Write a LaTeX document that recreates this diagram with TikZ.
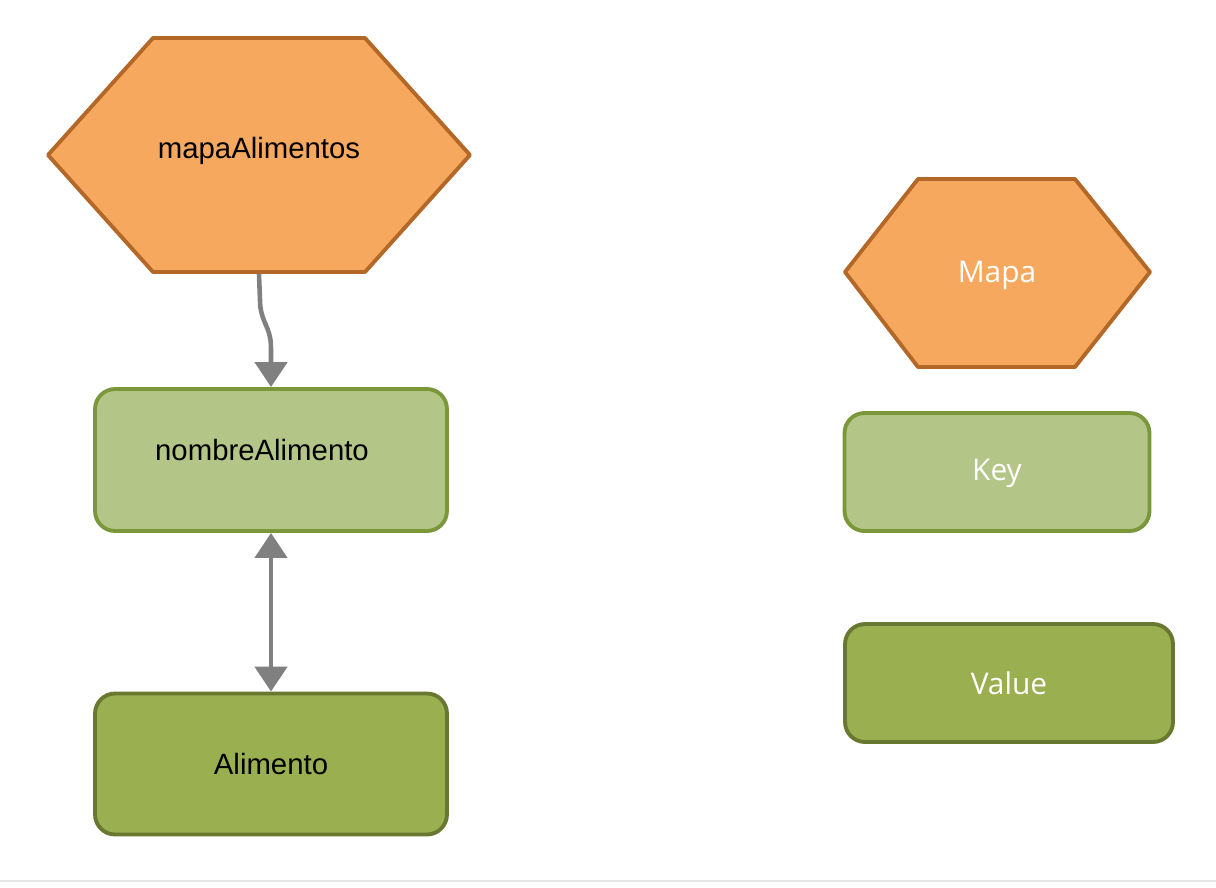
\documentclass[tikz,border=0pt]{standalone}
\usepackage{fontspec}
\setmainfont{Liberation Sans}
\newfontfamily\leyendafont{Open Sans}
\usetikzlibrary{arrows.meta}
\definecolor{naranja}{RGB}{246,169,94}
\definecolor{naranjaborde}{RGB}{180,104,40}
\definecolor{verdeclaro}{RGB}{179,198,135}
\definecolor{verdeclaroborde}{RGB}{122,152,58}
\definecolor{verdeoscuro}{RGB}{154,175,80}
\definecolor{verdeoscuroborde}{RGB}{104,120,48}
\definecolor{flecha}{RGB}{128,128,128}
\begin{document}
\begin{tikzpicture}[
    x=0.02cm, y=-0.02cm,
    line width=2.2pt,
    font=\fontsize{16.7}{20}\selectfont,
    hexa/.style={draw=naranjaborde, fill=naranja, line join=round},
    hexatexto/.style={rectangle, inner sep=0pt},
    llave/.style={rectangle, rounded corners=0.4cm, draw=verdeclaroborde, fill=verdeclaro, inner sep=0pt},
    valor/.style={rectangle, rounded corners=0.4cm, draw=verdeoscuroborde, fill=verdeoscuro, inner sep=0pt},
    leyenda/.style={text=white, font=\leyendafont\fontsize{17}{20}\selectfont},
    enlace/.style={draw=flecha, line width=2.6pt},
    punta/.tip={Triangle[width=0.64cm,length=0.5cm]}
]
    \useasboundingbox (0,0) rectangle (1216,887);

    % Mapa
    \draw[hexa] (48,155) -- (153,38) -- (365,38) -- (470,155) -- (365,272) -- (153,272) -- cycle;
    \node[hexatexto, minimum width=8.44cm, minimum height=4.68cm, text depth=0.3cm] (mapa) at (259,155) {mapaAlimentos};
    \node[llave, minimum width=7.04cm, minimum height=2.84cm, text depth=0.4cm] (nombre) at (271,460) {nombreAlimento\hspace*{0.36cm}};
    \node[valor, minimum width=7.04cm, minimum height=2.82cm] (alimento) at (271,764) {Alimento};

    \draw[enlace, -punta] (mapa.south) -- (260,300)
        .. controls (260,322) and (271,326) .. (271,348) -- (nombre.north);
    \draw[enlace, punta-punta] (nombre.south) -- (alimento.north);

    % Leyenda
    \draw[hexa] (845,272) -- (918,179) -- (1075,179) -- (1150,272) -- (1075,367) -- (918,367) -- cycle;
    \node[hexatexto, leyenda, minimum width=6.1cm, minimum height=3.76cm] (leyMapa) at (997,275) {Mapa};
    \node[llave, leyenda, minimum width=6.1cm, minimum height=2.36cm, text height=0.5cm] (leyKey) at (997,472) {Key};
    \node[valor, leyenda, minimum width=6.56cm, minimum height=2.36cm] (leyValue) at (1009,683) {Value};

    \draw[gray!20, line width=0.6pt] (0,881) -- (1216,881);
\end{tikzpicture}
\end{document}
